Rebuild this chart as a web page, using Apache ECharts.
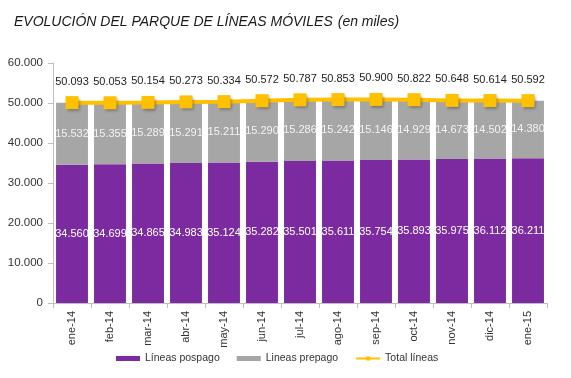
<!DOCTYPE html>
<html><head><meta charset="utf-8">
<script src="https://cdn.jsdelivr.net/npm/echarts@6/dist/echarts.min.js"></script>
<style>html,body{margin:0;padding:0;background:#fff}#c{width:571px;height:378px}</style>
</head><body><div id="c"></div>
<script>
const categories = ['ene-14','feb-14','mar-14','abr-14','may-14','jun-14','jul-14','ago-14','sep-14','oct-14','nov-14','dic-14','ene-15'];
const pospago = [34560,34699,34865,34983,35124,35282,35501,35611,35754,35893,35975,36112,36211];
const prepago = [15532,15355,15289,15291,15211,15290,15286,15242,15146,14929,14673,14502,14380];
const total = [50093,50053,50154,50273,50334,50572,50787,50853,50900,50822,50648,50614,50592];
const yTicks = [0,10000,20000,30000,40000,50000,60000];

function fmt(v){ return String(Math.round(v)).replace(/\B(?=(\d{3})+(?!\d))/g,'.'); }
const FONT = '"Liberation Sans", Arial, sans-serif';

const chart = echarts.init(document.getElementById('c'));
chart.setOption({
  animation:false,
  textStyle:{fontFamily:FONT},
  title:{
    left:9, top:8,
    text:'{a|EVOLUCIÓN DEL PARQUE DE LÍNEAS MÓVILES} {b|(en miles)}',
    textStyle:{rich:{
      a:{fontFamily:FONT,fontSize:14,fontStyle:'italic',fontWeight:'normal',color:'#1a1a1a'},
      b:{fontFamily:FONT,fontSize:14,fontStyle:'italic',fontWeight:'normal',color:'#1a1a1a'}
    }}
  },
  grid:{left:53,right:24,top:63,bottom:75,containLabel:false},
  legend:{
    top:348, left:111,
    itemWidth:24, itemHeight:5, itemGap:17,
    textStyle:{fontFamily:FONT,fontSize:10.5,color:'#333'},
    data:[
      {name:'Líneas pospago',icon:'rect'},
      {name:'Lineas prepago',icon:'rect'},
      {name:'Total líneas'}
    ]
  },
  xAxis:{
    type:'category', data:categories,
    axisLine:{lineStyle:{color:'#bfbfbf'}},
    axisTick:{show:true,lineStyle:{color:'#bfbfbf'},length:5},
    axisLabel:{rotate:90,fontFamily:FONT,fontSize:11,color:'#333',margin:8}
  },
  yAxis:{
    type:'value', min:yTicks[0], max:yTicks[yTicks.length-1], interval:10000,
    axisLine:{show:true,lineStyle:{color:'#bfbfbf'}},
    axisTick:{show:true,lineStyle:{color:'#bfbfbf'},length:5},
    splitLine:{show:false},
    axisLabel:{fontFamily:FONT,fontSize:11.5,color:'#333',margin:10,formatter:fmt}
  },
  series:[
    {name:'Líneas pospago',type:'bar',stack:'s',data:pospago,barCategoryGap:'16%',
     itemStyle:{color:'#7B2AA0'},
     label:{show:true,position:'inside',color:'#fff',fontFamily:FONT,fontSize:11,formatter:p=>fmt(p.value)}},
    {name:'Lineas prepago',type:'bar',stack:'s',data:prepago,barCategoryGap:'16%',
     itemStyle:{color:'#A6A6A6'},
     label:{show:true,position:'inside',color:'#f2f2f2',fontFamily:FONT,fontSize:11,formatter:p=>fmt(p.value)}},
    {name:'Total líneas',type:'line',data:total,
     symbol:'rect',symbolSize:13,
     lineStyle:{color:'#FFC000',width:4},
     itemStyle:{color:'#FFC000',shadowColor:'rgba(0,0,0,0.35)',shadowBlur:3,shadowOffsetX:1,shadowOffsetY:2},
     label:{show:true,position:'top',distance:9,color:'#222',fontFamily:FONT,fontSize:11,formatter:p=>fmt(p.value)}}
  ]
});
</script></body></html>
